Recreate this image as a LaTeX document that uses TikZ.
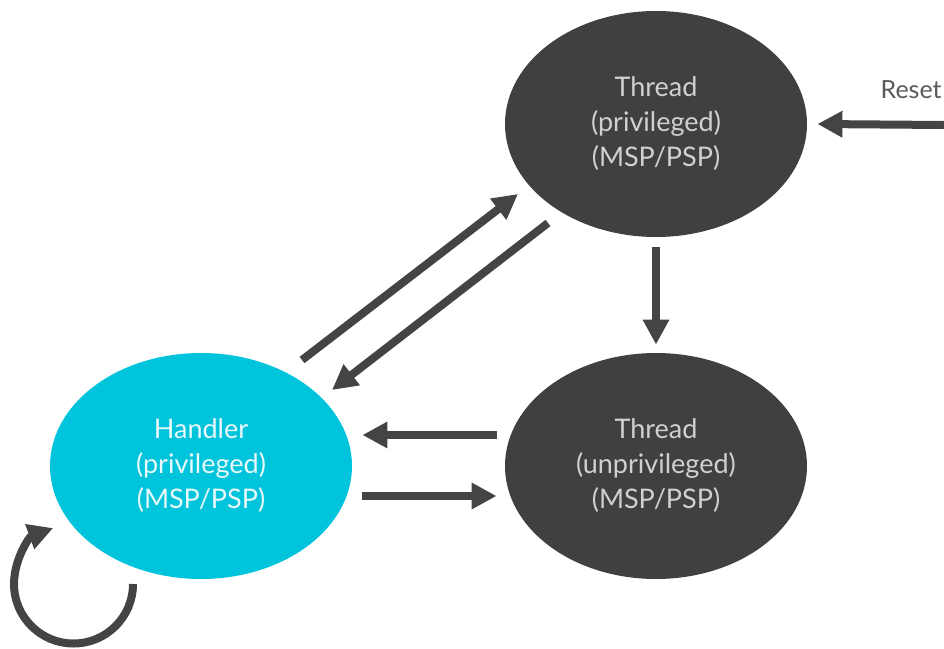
\documentclass[tikz,border=0pt]{standalone}
\usepackage{fontspec}
\setmainfont{Lato}
\usetikzlibrary{arrows.meta}
\usetikzlibrary{shapes.geometric}
\definecolor{mydark}{RGB}{64,64,64}
\definecolor{myarrow}{RGB}{68,68,68}
\definecolor{mycyan}{RGB}{0,195,220}
\definecolor{mylight}{RGB}{208,208,208}
\definecolor{mywhite}{RGB}{232,248,251}
\definecolor{myreset}{RGB}{90,90,90}

\tikzset{
  mode/.style={ellipse, fill=mydark, text=mylight, inner sep=0pt,
    minimum width=151pt, minimum height=113pt, align=center,
    font=\fontsize{13.5}{17.5}\selectfont},
  arr/.style={line width=4pt, myarrow, -{Triangle[length=12.5pt,width=12.5pt]}}
}

\begin{document}
\begin{tikzpicture}[x=0.5pt,y=0.5pt]
  \clip (0,0) rectangle (944,-649);
  %The three modes:
  \node[mode] (thpriv) at (656,-124) {Thread\\(privileged)\\(MSP/PSP)};
  \node[mode] (thunpriv) at (656,-466) {Thread\\(unprivileged)\\(MSP/PSP)};
  \node[mode, fill=mycyan, text=mywhite] (handler) at (201,-466) {Handler\\(privileged)\\(MSP/PSP)};

  %Reset comes in from the right:
  \coordinate (reset) at (944,-125);
  \node[anchor=base east, inner sep=1pt, text=myreset, font=\fontsize{12.5}{15}\selectfont] (resetlbl) at (944,-98) {Reset};
  \draw[arr] (reset) -- ([xshift=5pt]thpriv.east);

  %Thread privileged to unprivileged:
  \draw[arr] ([yshift=-5pt]thpriv.south) -- ([yshift=4pt]thunpriv.north);

  %Handler and thread privileged:
  \draw[arr] ([shift={(101,106)}]handler.center) -- ([shift={(-138,-70)}]thpriv.center);
  \draw[arr] ([shift={(-108,-99)}]thpriv.center) -- ([shift={(131,76)}]handler.center);

  %Handler and thread unprivileged:
  \draw[arr] ([shift={(-8,31)}]thunpriv.west) -- ([shift={(10,31)}]handler.east);
  \draw[arr] ([shift={(10,-30)}]handler.east) -- ([shift={(-8,-30)}]thunpriv.west);

  %Handler to itself:
  \draw[arr] ([shift={(-68,-118)}]handler.center) arc[start angle=0, end angle=-250, radius=59.5];
\end{tikzpicture}
\end{document}
